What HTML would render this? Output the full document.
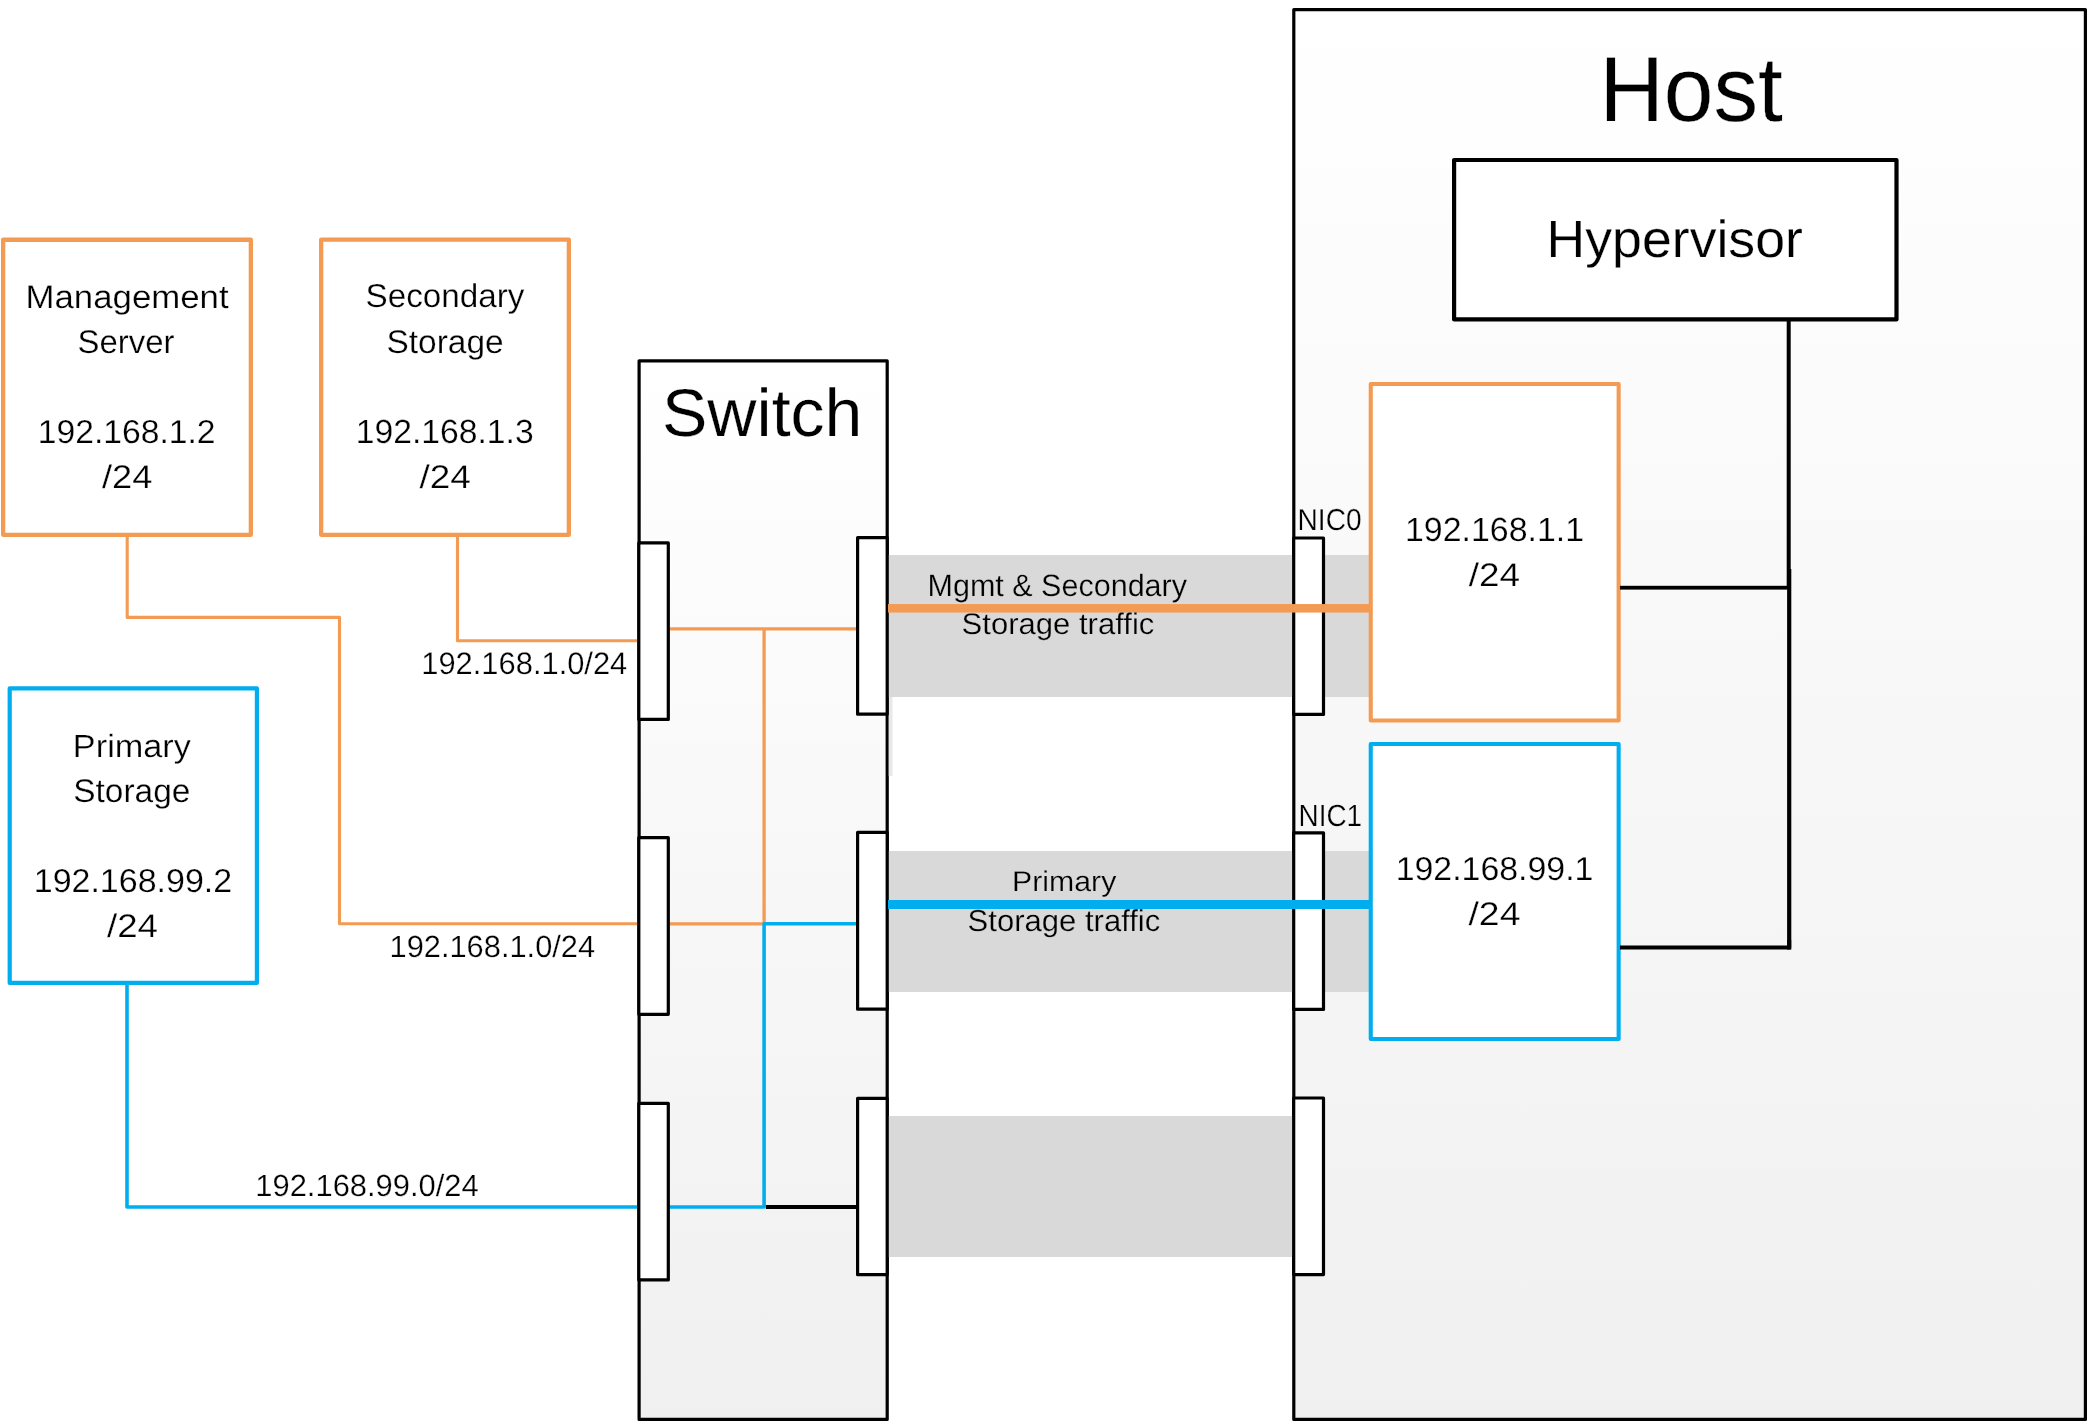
<!DOCTYPE html>
<html><head><meta charset="utf-8"><title>Network diagram</title>
<style>html,body{margin:0;padding:0;background:#fff;width:2088px;height:1422px;overflow:hidden}svg{display:block}text{font-family:"Liberation Sans",sans-serif}</style>
</head><body>
<svg width="2088" height="1422" viewBox="0 0 2088 1422">
<defs>
<linearGradient id="ghost" x1="0" y1="0" x2="0" y2="1"><stop offset="0" stop-color="#FFFFFF"/><stop offset="1" stop-color="#F0F0F0"/></linearGradient>
<linearGradient id="gsw" x1="0" y1="0" x2="0" y2="1"><stop offset="0" stop-color="#FFFFFF"/><stop offset="1" stop-color="#F0F0F0"/></linearGradient>
</defs>
<rect width="2088" height="1422" fill="#fff"/>
<rect x="1293.80" y="9.60" width="791.60" height="1409.80" fill="url(#ghost)" stroke="#000" stroke-width="3.2" stroke-linejoin="round"/>
<rect x="639.10" y="360.90" width="248.10" height="1058.50" fill="url(#gsw)" stroke="#000" stroke-width="3.2" stroke-linejoin="round"/>
<rect x="888" y="555" width="481" height="142" fill="#D9D9D9"/>
<rect x="888" y="851" width="481" height="141" fill="#D9D9D9"/>
<rect x="888" y="1116" width="405" height="141" fill="#D9D9D9"/>
<rect x="888.5" y="696" width="4" height="80" fill="#D9D9D9" opacity="0.6"/>
<rect x="3.15" y="239.75" width="247.70" height="295.10" fill="#fff" stroke="#F39B53" stroke-width="4.3" stroke-linejoin="round"/>
<rect x="321.15" y="239.65" width="247.70" height="295.20" fill="#fff" stroke="#F39B53" stroke-width="4.3" stroke-linejoin="round"/>
<rect x="9.70" y="688.30" width="247.20" height="294.60" fill="#fff" stroke="#00AEEF" stroke-width="4.2" stroke-linejoin="round"/>
<rect x="1454.10" y="160.00" width="442.40" height="159.40" fill="#fff" stroke="#000" stroke-width="4.2" stroke-linejoin="round"/>
<rect x="1370.75" y="384.05" width="247.90" height="336.50" fill="#fff" stroke="#F39B53" stroke-width="4.1" stroke-linejoin="round"/>
<rect x="1370.75" y="744.05" width="247.90" height="294.90" fill="#fff" stroke="#00AEEF" stroke-width="4.1" stroke-linejoin="round"/>
<path d="M127.2 536 V617.4 H339.5 V923.8 H640" fill="none" stroke="#F39B53" stroke-width="3.1" stroke-linejoin="round"/>
<path d="M457.5 536 V640.8 H640" fill="none" stroke="#F39B53" stroke-width="3.1" stroke-linejoin="round"/>
<path d="M668 628.9 H858" fill="none" stroke="#F39B53" stroke-width="3.2" stroke-linejoin="round"/>
<path d="M764.1 628.9 V923.8 H668" fill="none" stroke="#F39B53" stroke-width="3.3" stroke-linejoin="round"/>
<path d="M858 923.8 H764.1 V1207 H668" fill="none" stroke="#00AEEF" stroke-width="3.6" stroke-linejoin="round"/>
<path d="M127 984 V1207 H640" fill="none" stroke="#00AEEF" stroke-width="3.6" stroke-linejoin="round"/>
<rect x="765.90" y="1205.00" width="92.10" height="4" fill="#000"/>
<rect x="1786.70" y="320.00" width="4" height="269.00" fill="#000"/>
<rect x="1787.10" y="569.00" width="4.2" height="380.60" fill="#000"/>
<rect x="1620.00" y="585.80" width="171.00" height="3.8" fill="#000"/>
<path d="M1620 947.6 H1789.2 V940" fill="none" stroke="#000" stroke-width="4" stroke-linejoin="round"/>
<rect x="638.80" y="542.90" width="29.50" height="176.50" fill="#fff" stroke="#000" stroke-width="3.2" stroke-linejoin="round"/>
<rect x="638.80" y="837.60" width="29.50" height="176.70" fill="#fff" stroke="#000" stroke-width="3.2" stroke-linejoin="round"/>
<rect x="638.80" y="1103.35" width="29.50" height="176.55" fill="#fff" stroke="#000" stroke-width="3.2" stroke-linejoin="round"/>
<rect x="857.60" y="537.70" width="29.60" height="176.50" fill="#fff" stroke="#000" stroke-width="3.2" stroke-linejoin="round"/>
<rect x="857.60" y="832.40" width="29.60" height="176.80" fill="#fff" stroke="#000" stroke-width="3.2" stroke-linejoin="round"/>
<rect x="857.60" y="1098.35" width="29.60" height="176.35" fill="#fff" stroke="#000" stroke-width="3.2" stroke-linejoin="round"/>
<rect x="1293.70" y="538.00" width="29.80" height="176.40" fill="#fff" stroke="#000" stroke-width="3.2" stroke-linejoin="round"/>
<rect x="1293.70" y="832.80" width="29.80" height="176.60" fill="#fff" stroke="#000" stroke-width="3.2" stroke-linejoin="round"/>
<rect x="1293.70" y="1098.00" width="29.80" height="176.60" fill="#fff" stroke="#000" stroke-width="3.2" stroke-linejoin="round"/>
<rect x="888.00" y="604.05" width="481.00" height="8.5" fill="#F39B53"/>
<rect x="888.00" y="900.00" width="481.00" height="9" fill="#00AEEF"/>
<g font-family="Liberation Sans, sans-serif" fill="#000" style="will-change:transform;text-rendering:geometricPrecision">
<text transform="translate(25.53,307.88) scale(1.0683,1)" font-size="32.57" stroke="#ffffff" stroke-width="0.25">Management</text>
<text transform="translate(77.52,352.87) scale(1.0039,1)" font-size="32.80" stroke="#ffffff" stroke-width="0.25">Server</text>
<text transform="translate(37.78,442.80) scale(1.0184,1)" font-size="33.05" stroke="#ffffff" stroke-width="0.25">192.168.1.2</text>
<text transform="translate(102.00,488.00) scale(1.1029,1)" font-size="32.87" stroke="#ffffff" stroke-width="0.25">/24</text>
<text transform="translate(365.50,307.24) scale(1.0062,1)" font-size="33.06" stroke="#ffffff" stroke-width="0.25">Secondary</text>
<text transform="translate(386.49,352.88) scale(1.0202,1)" font-size="32.81" stroke="#ffffff" stroke-width="0.25">Storage</text>
<text transform="translate(355.67,443.00) scale(1.0052,1)" font-size="33.53" stroke="#ffffff" stroke-width="0.25">192.168.1.3</text>
<text transform="translate(419.50,488.00) scale(1.1230,1)" font-size="32.87" stroke="#ffffff" stroke-width="0.25">/24</text>
<text transform="translate(72.87,757.00) scale(1.0705,1)" font-size="32.00" stroke="#ffffff" stroke-width="0.25">Primary</text>
<text transform="translate(73.19,802.08) scale(1.0204,1)" font-size="32.80" stroke="#ffffff" stroke-width="0.25">Storage</text>
<text transform="translate(33.75,891.80) scale(1.0280,1)" font-size="33.05" stroke="#ffffff" stroke-width="0.25">192.168.99.2</text>
<text transform="translate(107.00,937.00) scale(1.1163,1)" font-size="32.87" stroke="#ffffff" stroke-width="0.25">/24</text>
<text transform="translate(661.94,436.03) scale(1.0090,1)" font-size="67.47" stroke="#fefefe" stroke-width="0.25">Switch</text>
<text transform="translate(1599.44,120.60) scale(0.9673,1)" font-size="92.17" stroke="#ffffff" stroke-width="0.25">Host</text>
<text transform="translate(1546.58,257.00) scale(1.0242,1)" font-size="52.36" stroke="#ffffff" stroke-width="0.25">Hypervisor</text>
<text transform="translate(1404.96,541.00) scale(1.0115,1)" font-size="33.53" stroke="#ffffff" stroke-width="0.25">192.168.1.1</text>
<text transform="translate(1468.70,586.00) scale(1.1230,1)" font-size="32.87" stroke="#ffffff" stroke-width="0.25">/24</text>
<text transform="translate(1395.66,879.80) scale(1.0247,1)" font-size="33.06" stroke="#ffffff" stroke-width="0.25">192.168.99.1</text>
<text transform="translate(1468.50,924.80) scale(1.1364,1)" font-size="32.87" stroke="#ffffff" stroke-width="0.25">/24</text>
<text transform="translate(1297.58,530.31) scale(0.9257,1)" font-size="30.34" stroke="#f9f9f9" stroke-width="0.25">NIC0</text>
<text transform="translate(1298.50,825.70) scale(0.9119,1)" font-size="30.59" stroke="#f6f6f6" stroke-width="0.25">NIC1</text>
<text transform="translate(927.48,595.51) scale(0.9885,1)" font-size="30.89" stroke="#D9D9D9" stroke-width="0.25">Mgmt &amp; Secondary</text>
<text transform="translate(961.60,634.19) scale(1.0381,1)" font-size="29.91" stroke="#D9D9D9" stroke-width="0.25">Storage traffic</text>
<text transform="translate(1012.11,891.20) scale(1.0610,1)" font-size="28.50" stroke="#D9D9D9" stroke-width="0.25">Primary</text>
<text transform="translate(967.60,930.79) scale(1.0246,1)" font-size="30.31" stroke="#D9D9D9" stroke-width="0.25">Storage traffic</text>
<text transform="translate(421.28,674.00) scale(0.9924,1)" font-size="31.12" stroke="#ffffff" stroke-width="0.25">192.168.1.0/24</text>
<text transform="translate(389.49,957.00) scale(1.0063,1)" font-size="30.64" stroke="#ffffff" stroke-width="0.25">192.168.1.0/24</text>
<text transform="translate(255.28,1196.00) scale(1.0094,1)" font-size="30.64" stroke="#ffffff" stroke-width="0.25">192.168.99.0/24</text>
</g>
</svg>
</body></html>
